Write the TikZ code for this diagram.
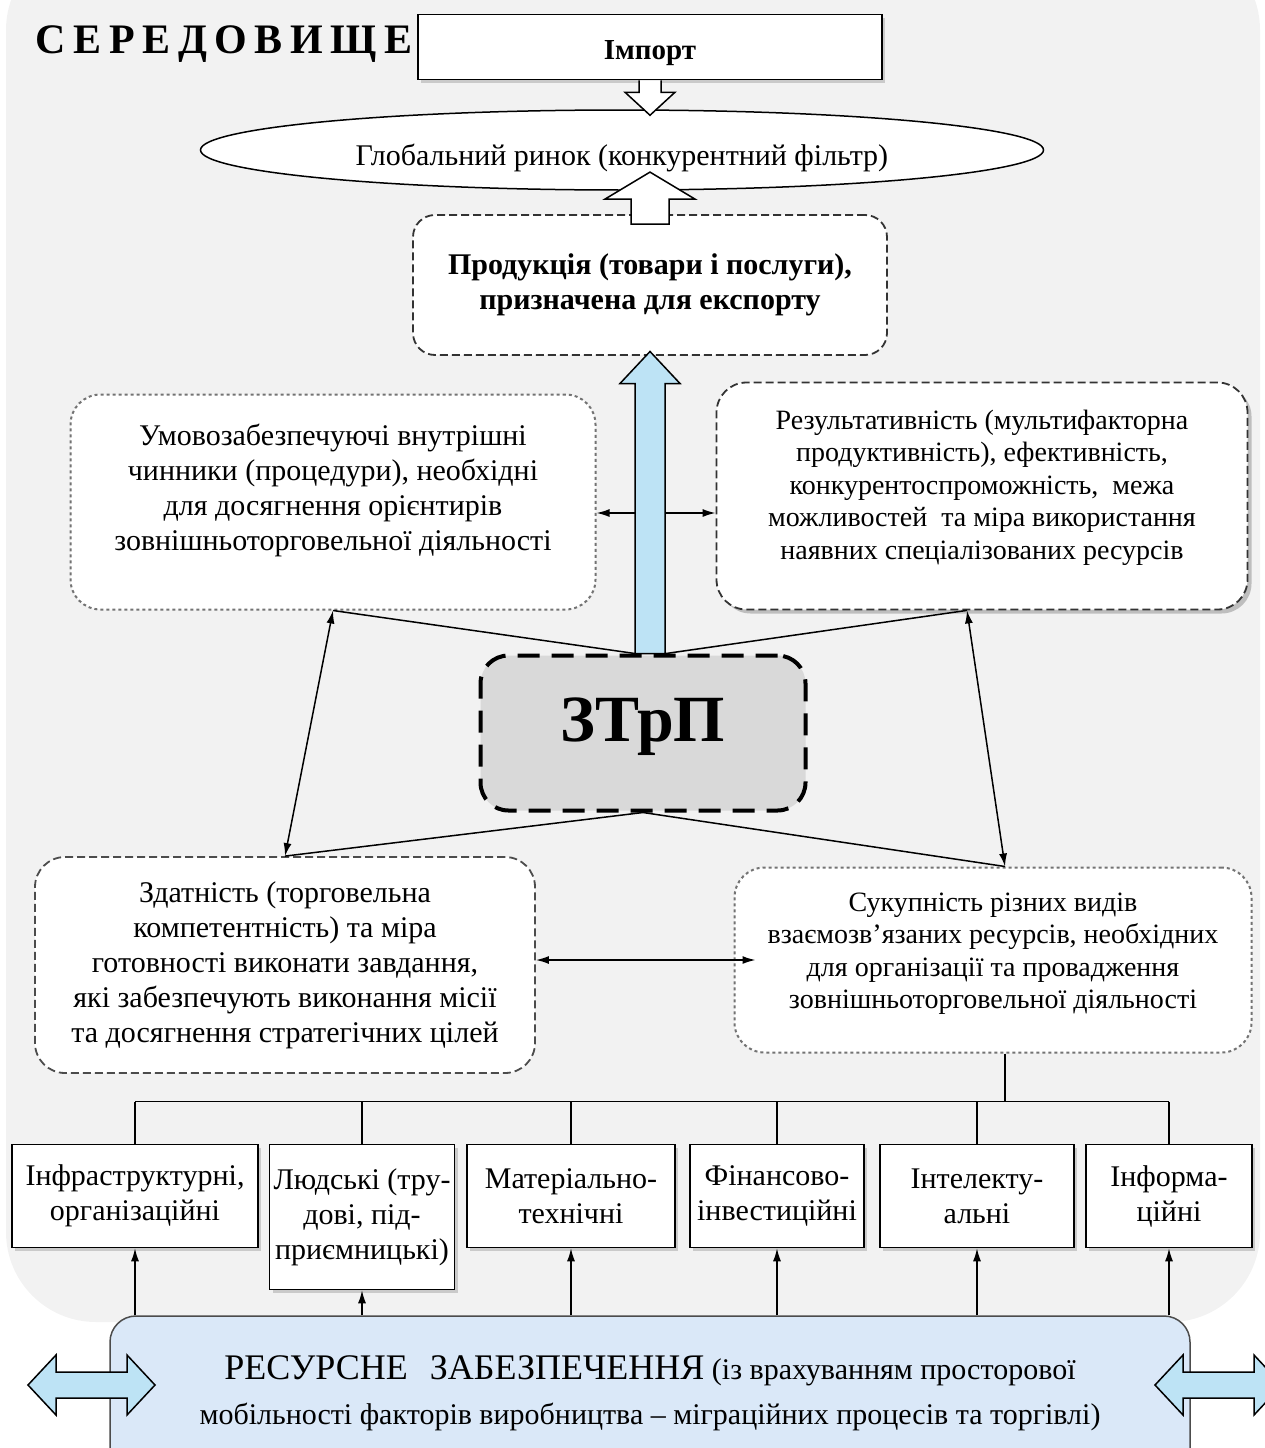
\documentclass[tikz,border=0pt]{standalone}
\usepackage{fontspec}
\setmainfont{Liberation Serif}
\usepackage{xcolor}
\usetikzlibrary{arrows.meta,calc,positioning,shapes.geometric,shadows}
\definecolor{envgray}{HTML}{F2F2F2}
\definecolor{coregray}{HTML}{D9D9D9}
\definecolor{flowblue}{HTML}{BDE3F5}
\definecolor{barblue}{HTML}{DAE8F8}
\newcommand{\boxfont}{\fontsize{30}{35}\selectfont}
\newcommand{\tightfont}{\fontsize{28}{32.5}\selectfont}
\tikzset{%
	plainbox/.style = {draw, rectangle, fill=white, align=center, line width=1.5pt, inner sep=0pt,
		drop shadow={shadow xshift=3pt, shadow yshift=-3pt, opacity=0.35}},
	market/.style   = {draw, ellipse, fill=white, line width=1.5pt, inner sep=0pt},
	dashbox/.style  = {draw=black!70, fill=white, rectangle, rounded corners=30pt, align=center,
		line width=1.8pt, dash pattern=on 8pt off 4pt, inner sep=0pt},
	dotbox/.style   = {draw=black!55, fill=white, rectangle, rounded corners=30pt, align=center,
		line width=2pt, dash pattern=on 3pt off 3pt, inner sep=0pt},
	core/.style     = {draw, fill=coregray, rectangle, rounded corners=28pt, line width=4pt,
		dash pattern=on 22pt off 12pt, inner sep=0pt, align=center},
	kindbox/.style  = {plainbox, minimum height=103pt, font=\boxfont},
	hollow/.style   = {draw, fill=white, line width=1.5pt, line join=miter},
	flow/.style     = {draw, fill=flowblue, line width=1.5pt},
	link/.style     = {line width=1.5pt},
}
\begin{document}
\begin{tikzpicture}[x=1pt,y=-1pt,>={Latex[length=13pt,width=8pt]}]
	\useasboundingbox (0,0) rectangle (1265,1448);
	\fill[envgray, rounded corners=90pt] (6,-60) rectangle (1260,1322);
	
	\node[font=\fontsize{42}{42}\selectfont\bfseries\addfontfeature{LetterSpace=18}] (env) at (224,44) {СЕРЕДОВИЩЕ};
	\node[plainbox, minimum width=464pt, minimum height=65pt, text height=25pt, text depth=0pt,
		font=\fontsize{29}{35}\selectfont\bfseries] (import) at (650,47) {Імпорт};
	\node[market, minimum width=843pt, minimum height=80pt, text height=30pt, text depth=0pt, font=\boxfont] (market) at (622,150) {Глобальний ринок (конкурентний фільтр)};
	\node[dashbox, draw=black!80, rounded corners=22pt, minimum width=474pt, minimum height=140pt, font=\boxfont\bfseries] (product) at (650,285) {Продукція (товари і послуги),\\ призначена для експорту};
	\node[dotbox, minimum width=525pt, minimum height=215pt, font=\boxfont] (cond) at (333,502) {Умовозабезпечуючі внутрішні\\ чинники (процедури), необхідні\\ для досягнення орієнтирів\\ зовнішньоторговельної діяльності\\[-5pt]};
	\node[dashbox, draw=black!80, minimum width=531pt, minimum height=227pt, font=\tightfont,
		drop shadow={shadow xshift=4pt, shadow yshift=-4pt, opacity=0.45}] (result) at (982,496) {Результативність (мультифакторна\\ продуктивність), ефективність,\\ конкурентоспроможність,\ \ межа\\ можливостей\ \ та міра використання\\ наявних спеціалізованих ресурсів\\[-10pt]};
	\node[core, minimum width=325pt, minimum height=155pt, font=\fontsize{66}{66}\selectfont\bfseries] (ztrp) at (643,733) {ЗТрП\\[-40pt]};
	\node[dashbox, minimum width=500pt, minimum height=216pt, font=\boxfont] (capab) at (285,965) {Здатність (торговельна\\ компетентність) та міра\\ готовності виконати завдання,\\ які забезпечують виконання місії\\ та досягнення стратегічних цілей};
	\node[dotbox, minimum width=517pt, minimum height=185pt, font=\tightfont] (resset) at (993,960) {Сукупність різних видів\\ взаємозвʼязаних ресурсів, необхідних\\ для організації та провадження\\ зовнішньоторговельної діяльності\\[-14pt]};
	
	% kinds of resources
	\node[kindbox, minimum width=246pt] (infra) at (135,1196) {Інфраструктурні,\\ організаційні};
	\node[kindbox, minimum width=185pt, minimum height=145pt] (human) at (362,1217) {Людські (тру-\\ дові, під-\\ приємницькі)};
	\node[kindbox, minimum width=208pt] (mater) at (571,1196) {Матеріально-\\ технічні};
	\node[kindbox, minimum width=174pt] (finan) at (777,1196) {Фінансово-\\ інвестиційні};
	\node[kindbox, minimum width=194pt] (intel) at (977,1196) {Інтелекту-\\ альні};
	\node[kindbox, minimum width=166pt] (info) at (1169,1196) {Інформа-\\ ційні};
	
	\node[draw=black!70, fill=barblue, rounded corners=26pt, line width=1.5pt, minimum width=1080pt, minimum height=160pt,
		align=center, font=\fontsize{30}{45}\selectfont] (resbar) at (650,1396)
		{{\fontsize{36}{45}\selectfont РЕСУРСНЕ\hspace{22pt}ЗАБЕЗПЕЧЕННЯ} (із врахуванням просторової\\ мобільності факторів виробництва – міграційних процесів та торгівлі)\\[-34pt]};
	
	% links round the core
	\draw[link] (cond.south) -- ([xshift=-8pt]ztrp.north);
	\draw[link] ([xshift=-15pt]result.south) -- ([xshift=23pt]ztrp.north);
	\draw[link] (capab.north) -- (ztrp.south) -- ([xshift=12pt]resset.north);
	\draw[link,<->] (cond.south) -- (capab.north);
	\draw[link,<->] ([xshift=-15pt]result.south) -- ([xshift=12pt]resset.north);
	\draw[link,<->] ([yshift=-11pt]cond.east) -- ([yshift=-17pt]result.west);
	\draw[link,<->] ([yshift=5pt]capab.east) -- ([xshift=22pt]resset.west);
	
	% block arrows
	\draw[hollow] (import.south) ++(-11,0) -- ++(0,12) -- ++(-14,0) -- ++(25,23) -- ++(25,-23) -- ++(-14,0) -- ++(0,-12);
	\draw[hollow] (product.north) ++(-19,10) -- ++(0,-25) -- ++(-26,0) -- ++(45,-27) -- ++(45,27) -- ++(-26,0) -- ++(0,25) -- cycle;
	\draw[flow] (product.south |- ztrp.north) ++(-15,0) -- ++(0,-270) -- ++(-15,0) -- ++(30,-32) -- ++(30,32) -- ++(-15,0) -- ++(0,270) -- cycle;
	
	% tree of resources
	\draw[link] ([xshift=12pt]resset.south) -- ++(0,48) coordinate (fork);
	\draw[link] (infra.north |- fork) -- (info.north |- fork);
	\foreach \k in {infra,human,mater,finan,intel,info}{
		\draw[link] (\k.north |- fork) -- (\k.north);
		\draw[link,->] (\k.south |- resbar.north) -- (\k.south);
	}
	
	% mobility arrows
	\draw[flow] (28,1385) -- ++(28,-30) -- ++(0,17) -- ++(71,0) -- ++(0,-17) -- ++(28,30) -- ++(-28,30) -- ++(0,-17) -- ++(-71,0) -- ++(0,17) -- cycle;
	\draw[flow] (1155,1385) -- ++(28,-30) -- ++(0,17) -- ++(71,0) -- ++(0,-17) -- ++(28,30) -- ++(-28,30) -- ++(0,-17) -- ++(-71,0) -- ++(0,17) -- cycle;
\end{tikzpicture}
\end{document}
